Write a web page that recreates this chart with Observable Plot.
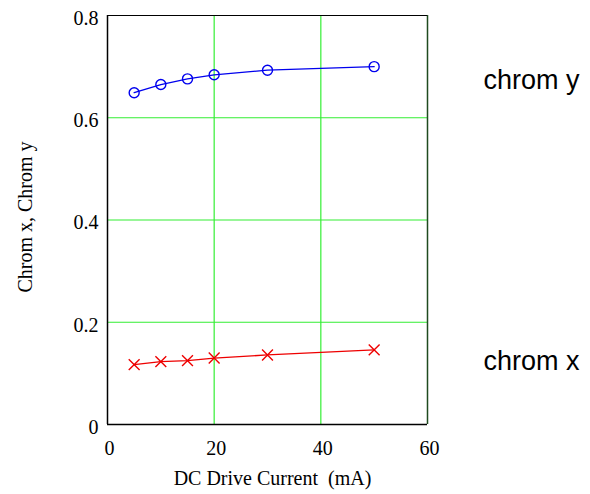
<!DOCTYPE html>
<html><head><meta charset="utf-8">
<script src="https://cdn.jsdelivr.net/npm/d3@7"></script>
<script src="https://cdn.jsdelivr.net/npm/@observablehq/plot@0.6"></script>
<style>
body{margin:0;background:#fff;}
#c{position:relative;width:590px;height:494px;}
</style>
</head><body><div id="c"></div>
<script>
const current = [5, 10, 15, 20, 30, 50];
const chromY = [0.649, 0.665, 0.676, 0.684, 0.693, 0.700];
const chromX = [0.117, 0.123, 0.125, 0.130, 0.136, 0.146];
const xTicks = [0, 20, 40, 60];
const yTicks = [0, 0.2, 0.4, 0.6, 0.8];
const xTitle = "DC Drive Current  (mA)";
const yTitle = "Chrom x, Chrom y";
const seriesLabels = [{name: "chrom y", y: 0.673}, {name: "chrom x", y: 0.124}];

const dy = current.map((c, i) => ({x: c, y: chromY[i]}));
const dx = current.map((c, i) => ({x: c, y: chromX[i]}));
const serif = "'Liberation Serif', 'Times New Roman', serif";
const yFmt = d => d === 0 ? "0" : d3.format(".1f")(d);

const plot = Plot.plot({
  width: 590, height: 494,
  marginLeft: 107, marginRight: 163, marginTop: 15, marginBottom: 70,
  style: {fontFamily: serif, color: "#000", background: "#fff"},
  x: {domain: [0, 60], axis: null},
  y: {domain: [0, 0.8], axis: null},
  marks: [
    Plot.gridX(xTicks.slice(1, -1), {stroke: "#33ee33", strokeOpacity: 1, strokeWidth: 1.2}),
    Plot.gridY(yTicks.slice(1), {stroke: "#33ee33", strokeOpacity: 1, strokeWidth: 1.2}),
    Plot.text(xTicks, {x: d => d, frameAnchor: "bottom", dy: 24, dx: 2, text: d => String(d), fontSize: 20, fontFamily: serif, fill: "#000", lineAnchor: "middle"}),
    Plot.text(yTicks, {y: d => d, frameAnchor: "left", dx: -9, dy: 3, text: yFmt, textAnchor: "end", fontSize: 20, fontFamily: serif, fill: "#000"}),
    Plot.text([xTitle], {frameAnchor: "bottom", dy: 54, dx: 5, text: d => d, fontSize: 20, fontFamily: serif, fill: "#000", lineAnchor: "middle"}),
    Plot.text([yTitle], {frameAnchor: "left", dx: -82, dy: -3, rotate: -90, textAnchor: "middle", lineAnchor: "middle", text: d => d, fontSize: 20, fontFamily: serif, fill: "#000"}),
    Plot.ruleX([60], {stroke: "#1f4a1f", strokeWidth: 1.5}),
    Plot.ruleX([0], {stroke: "#000", strokeWidth: 1.5}),
    Plot.ruleY([0], {stroke: "#000", strokeWidth: 1.5}),
    Plot.ruleY([0.8], {stroke: "#000", strokeWidth: 1}),
    Plot.line(dy, {x: "x", y: "y", stroke: "#0000ee", strokeWidth: 1.3}),
    Plot.dot(dy, {x: "x", y: "y", stroke: "#0000ee", r: 5, strokeWidth: 1.4, fill: "white", fillOpacity: 0}),
    Plot.line(dx, {x: "x", y: "y", stroke: "#ee0000", strokeWidth: 1.3}),
    Plot.dot(dx, {x: "x", y: "y", stroke: "#ee0000", symbol: "times", r: 5, strokeWidth: 1.4}),
    Plot.text(seriesLabels, {x: () => 60, y: "y", text: "name", dx: 56, textAnchor: "start", fontSize: 27, fontFamily: "'Liberation Sans', Arial, sans-serif", fill: "#000"})
  ]
});
document.getElementById("c").appendChild(plot);
</script></body></html>
